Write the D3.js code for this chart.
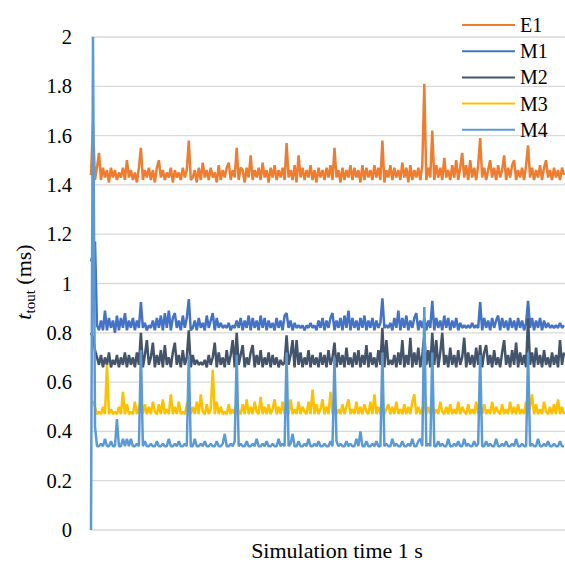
<!DOCTYPE html>
<html>
<head>
<meta charset="utf-8">
<script src="https://cdn.jsdelivr.net/npm/d3@7"></script>
<style>
  body { margin: 0; background: #fff; }
  svg { display: block; }
</style>
</head>
<body>
<svg id="chart" width="565" height="563" style="font-family:'Liberation Serif'">
  <text x="337" y="558" text-anchor="middle" style="font-family:'Liberation Serif'; font-size:22px">Simulation time 1 s</text>
  <text transform="translate(31,282) rotate(-90)" text-anchor="middle" style="font-family:'Liberation Serif'; font-size:22px"><tspan style="font-style:italic">t</tspan><tspan dy="4" style="font-size:15px">tout</tspan><tspan dy="-4"> (ms)</tspan></text>
</svg>
<script>
// t_tout (ms) per sample
const seriesNames = ["E1", "M1", "M2", "M3", "M4"];
const seriesColors = ["#ED7D31", "#4472C4", "#44546A", "#FFC000", "#5B9BD5"];
const yTicks = [0, 0.2, 0.4, 0.6, 0.8, 1, 1.2, 1.4, 1.6, 1.8, 2];

const e1 = [
  1.44,1.65,1.42,1.47,1.53,1.42,1.47,1.43,1.46,1.41,1.47,1.43,1.46,1.42,1.45,1.43,1.47,1.42,1.50,1.43,
  1.46,1.42,1.45,1.41,1.47,1.55,1.42,1.46,1.43,1.47,1.42,1.46,1.41,1.47,1.50,1.43,1.46,1.42,1.45,1.43,
  1.47,1.41,1.46,1.43,1.45,1.42,1.47,1.43,1.46,1.58,1.42,1.43,1.46,1.41,1.47,1.42,1.49,1.43,1.46,1.42,
  1.47,1.43,1.45,1.41,1.48,1.42,1.46,1.43,1.47,1.49,1.42,1.46,1.43,1.55,1.42,1.47,1.46,1.41,1.47,1.43,
  1.52,1.42,1.46,1.43,1.47,1.42,1.49,1.43,1.46,1.41,1.47,1.43,1.48,1.42,1.46,1.43,1.47,1.42,1.57,1.43,
  1.46,1.42,1.48,1.41,1.52,1.43,1.47,1.42,1.46,1.43,1.48,1.42,1.46,1.41,1.47,1.43,1.46,1.42,1.47,1.43,
  1.48,1.42,1.55,1.43,1.46,1.41,1.47,1.42,1.46,1.43,1.48,1.42,1.47,1.43,1.46,1.41,1.48,1.42,1.47,1.43,
  1.46,1.42,1.48,1.43,1.47,1.42,1.58,1.41,1.46,1.43,1.48,1.42,1.47,1.43,1.46,1.42,1.49,1.43,1.47,1.41,
  1.48,1.42,1.46,1.43,1.47,1.42,1.48,1.81,1.42,1.47,1.43,1.62,1.42,1.48,1.43,1.47,1.42,1.51,1.43,1.46,
  1.42,1.48,1.43,1.50,1.42,1.47,1.53,1.43,1.48,1.42,1.50,1.43,1.47,1.42,1.48,1.59,1.43,1.47,1.42,1.46,
  1.50,1.43,1.47,1.42,1.48,1.43,1.46,1.52,1.42,1.47,1.43,1.48,1.50,1.42,1.46,1.43,1.47,1.42,1.48,1.56,
  1.43,1.47,1.42,1.46,1.43,1.48,1.42,1.47,1.50,1.43,1.46,1.42,1.47,1.43,1.46,1.42,1.47,1.44
];
const m1 = [
  1.09,1.12,1.17,0.83,0.81,0.85,0.81,0.89,0.81,0.86,0.82,0.85,0.80,0.87,0.81,0.86,0.82,0.88,0.81,0.85,
  0.82,0.86,0.81,0.85,0.82,0.925,0.82,0.84,0.81,0.83,0.82,0.85,0.81,0.86,0.82,0.87,0.81,0.88,0.82,0.89,
  0.81,0.86,0.88,0.82,0.85,0.81,0.87,0.82,0.86,0.937,0.81,0.82,0.85,0.81,0.86,0.82,0.84,0.81,0.87,0.82,
  0.85,0.88,0.81,0.86,0.82,0.84,0.82,0.83,0.82,0.84,0.81,0.83,0.82,0.85,0.82,0.86,0.81,0.85,0.82,0.87,
  0.81,0.86,0.82,0.85,0.81,0.87,0.82,0.86,0.81,0.85,0.82,0.84,0.81,0.86,0.82,0.85,0.81,0.87,0.88,0.82,
  0.85,0.81,0.84,0.82,0.83,0.82,0.83,0.81,0.83,0.82,0.84,0.82,0.83,0.81,0.85,0.82,0.86,0.81,0.85,0.82,
  0.86,0.88,0.81,0.85,0.82,0.86,0.81,0.87,0.82,0.89,0.81,0.86,0.82,0.85,0.81,0.86,0.82,0.87,0.81,0.85,
  0.82,0.86,0.81,0.85,0.82,0.84,0.94,0.82,0.83,0.82,0.84,0.81,0.86,0.82,0.89,0.81,0.86,0.82,0.87,0.81,
  0.85,0.82,0.86,0.88,0.81,0.85,0.82,0.86,0.81,0.85,0.82,0.93,0.81,0.86,0.82,0.85,0.81,0.87,0.82,0.86,
  0.81,0.85,0.82,0.86,0.81,0.84,0.82,0.83,0.82,0.83,0.82,0.84,0.82,0.83,0.82,0.925,0.81,0.86,0.82,0.85,
  0.81,0.86,0.82,0.85,0.87,0.81,0.86,0.82,0.85,0.81,0.86,0.82,0.85,0.81,0.86,0.82,0.85,0.81,0.84,0.93,
  0.82,0.86,0.81,0.85,0.82,0.86,0.81,0.85,0.82,0.84,0.82,0.83,0.82,0.83,0.82,0.84,0.82,0.83
];
const m2 = [
  0.80,0.78,0.73,0.70,0.67,0.71,0.66,0.70,0.67,0.72,0.66,0.69,0.67,0.71,0.66,0.70,0.67,0.72,0.66,0.71,
  0.67,0.70,0.66,0.72,0.67,0.80,0.66,0.71,0.77,0.67,0.70,0.76,0.66,0.71,0.67,0.73,0.66,0.75,0.67,0.70,
  0.66,0.72,0.76,0.67,0.71,0.66,0.73,0.67,0.70,0.81,0.66,0.71,0.67,0.69,0.67,0.68,0.67,0.69,0.66,0.71,
  0.67,0.70,0.76,0.66,0.72,0.67,0.70,0.66,0.73,0.67,0.71,0.77,0.66,0.80,0.67,0.71,0.75,0.66,0.70,0.67,
  0.72,0.75,0.66,0.71,0.67,0.73,0.66,0.70,0.67,0.72,0.66,0.71,0.67,0.70,0.66,0.69,0.67,0.68,0.79,0.67,
  0.71,0.77,0.66,0.77,0.67,0.72,0.66,0.70,0.67,0.73,0.66,0.71,0.67,0.70,0.66,0.72,0.67,0.71,0.66,0.73,
  0.67,0.70,0.76,0.66,0.72,0.67,0.71,0.66,0.74,0.67,0.70,0.66,0.72,0.67,0.73,0.66,0.71,0.67,0.75,0.66,
  0.72,0.67,0.70,0.66,0.73,0.67,0.82,0.66,0.77,0.67,0.69,0.67,0.71,0.66,0.72,0.67,0.77,0.66,0.71,0.67,
  0.78,0.66,0.72,0.67,0.74,0.66,0.71,0.79,0.67,0.73,0.66,0.80,0.67,0.77,0.66,0.72,0.80,0.67,0.71,0.66,
  0.74,0.67,0.71,0.66,0.73,0.67,0.70,0.78,0.66,0.72,0.67,0.71,0.66,0.74,0.67,0.75,0.66,0.72,0.75,0.67,
  0.71,0.66,0.73,0.67,0.70,0.66,0.72,0.77,0.67,0.71,0.66,0.73,0.67,0.76,0.66,0.72,0.67,0.71,0.66,0.86,
  0.67,0.72,0.66,0.74,0.67,0.71,0.66,0.73,0.67,0.70,0.66,0.72,0.67,0.71,0.66,0.77,0.67,0.72
];
const m3 = [
  0.52,0.52,0.50,0.47,0.48,0.47,0.50,0.47,0.67,0.47,0.49,0.47,0.48,0.47,0.50,0.47,0.56,0.47,0.51,0.47,
  0.48,0.47,0.52,0.47,0.49,0.53,0.47,0.51,0.47,0.50,0.47,0.52,0.48,0.47,0.51,0.47,0.53,0.47,0.49,0.47,
  0.55,0.47,0.50,0.47,0.52,0.47,0.48,0.47,0.51,0.53,0.47,0.50,0.47,0.52,0.47,0.55,0.48,0.47,0.51,0.47,
  0.49,0.65,0.47,0.52,0.47,0.50,0.47,0.48,0.47,0.51,0.47,0.49,0.47,0.52,0.48,0.47,0.51,0.47,0.53,0.47,
  0.50,0.47,0.52,0.48,0.47,0.54,0.47,0.50,0.47,0.51,0.47,0.49,0.53,0.47,0.50,0.47,0.52,0.47,0.51,0.47,
  0.53,0.47,0.49,0.47,0.52,0.47,0.50,0.48,0.47,0.52,0.47,0.57,0.47,0.51,0.47,0.49,0.53,0.47,0.50,0.47,
  0.56,0.47,0.52,0.47,0.49,0.47,0.51,0.47,0.50,0.53,0.47,0.49,0.47,0.52,0.47,0.50,0.47,0.51,0.48,0.47,
  0.52,0.47,0.55,0.47,0.50,0.47,0.52,0.47,0.49,0.51,0.47,0.50,0.47,0.52,0.47,0.49,0.47,0.51,0.47,0.50,
  0.47,0.52,0.55,0.47,0.50,0.47,0.49,0.52,0.47,0.50,0.47,0.51,0.47,0.49,0.47,0.52,0.48,0.47,0.50,0.47,
  0.51,0.47,0.49,0.47,0.52,0.47,0.50,0.48,0.47,0.51,0.47,0.49,0.47,0.52,0.47,0.50,0.47,0.51,0.47,0.49,
  0.47,0.52,0.47,0.50,0.48,0.47,0.51,0.47,0.49,0.47,0.52,0.47,0.50,0.47,0.51,0.47,0.49,0.47,0.52,0.47,
  0.50,0.55,0.47,0.51,0.47,0.49,0.47,0.52,0.48,0.47,0.50,0.47,0.51,0.47,0.53,0.47,0.50,0.47
];
const m4 = [
  0,2.0,0.42,0.34,0.34,0.35,0.34,0.37,0.34,0.34,0.36,0.34,0.34,0.45,0.34,0.34,0.37,0.34,0.37,0.34,
  0.37,0.34,0.34,0.35,0.34,0.73,0.34,0.36,0.34,0.34,0.35,0.34,0.34,0.36,0.34,0.34,0.35,0.34,0.34,0.37,
  0.34,0.34,0.35,0.34,0.36,0.34,0.34,0.35,0.34,0.71,0.34,0.34,0.37,0.34,0.34,0.35,0.34,0.36,0.34,0.34,
  0.35,0.34,0.34,0.36,0.34,0.34,0.35,0.39,0.34,0.34,0.35,0.34,0.36,0.71,0.34,0.35,0.34,0.34,0.36,0.34,
  0.34,0.35,0.34,0.37,0.34,0.34,0.35,0.34,0.36,0.34,0.34,0.35,0.34,0.34,0.37,0.34,0.35,0.34,0.72,0.34,
  0.35,0.39,0.34,0.34,0.36,0.34,0.34,0.35,0.34,0.37,0.34,0.34,0.35,0.34,0.36,0.34,0.34,0.35,0.34,0.34,
  0.36,0.34,0.70,0.36,0.34,0.35,0.34,0.34,0.36,0.34,0.35,0.34,0.34,0.37,0.34,0.40,0.34,0.34,0.36,0.34,
  0.34,0.35,0.34,0.36,0.34,0.34,0.72,0.34,0.35,0.34,0.34,0.37,0.34,0.35,0.34,0.34,0.36,0.34,0.34,0.35,
  0.34,0.37,0.34,0.34,0.36,0.37,0.34,0.905,0.34,0.35,0.34,0.72,0.34,0.34,0.36,0.34,0.35,0.34,0.34,0.37,
  0.34,0.34,0.35,0.34,0.36,0.34,0.34,0.37,0.34,0.35,0.34,0.34,0.36,0.34,0.35,0.71,0.34,0.34,0.36,0.34,
  0.35,0.34,0.34,0.37,0.34,0.34,0.35,0.34,0.36,0.34,0.34,0.35,0.34,0.37,0.34,0.34,0.35,0.34,0.34,0.72,
  0.34,0.35,0.34,0.34,0.37,0.34,0.34,0.35,0.34,0.36,0.34,0.34,0.35,0.34,0.34,0.36,0.34,0.34
];
const seriesValues = [e1, m1, m2, m3, m4];

const W = 565, H = 563;
const margin = {top: 37, right: 0, bottom: 33, left: 91};
const width = W - margin.left - margin.right,
      height = H - margin.top - margin.bottom;
const font = size => `font-family:'Liberation Serif'; font-size:${size}px`;

const svg = d3.select("#chart");

const g = svg.insert("g", ":first-child")
    .attr("transform", `translate(${margin.left},${margin.top})`);

const x = d3.scaleLinear()
    .domain([0, e1.length - 1])
    .range([0, width - 1]);

const y = d3.scaleLinear()
    .domain([0, 2])
    .range([height, 0]);

// gridlines
g.selectAll(".grid")
    .data(yTicks)
  .enter().append("line")
    .attr("x1", 0)
    .attr("x2", width)
    .attr("y1", d => y(d))
    .attr("y2", d => y(d))
    .attr("stroke", "#d9d9d9")
    .attr("stroke-width", 1.3);

// Y axis labels
const yAxis = g.append("g")
    .call(d3.axisLeft(y).tickValues(yTicks).tickFormat(d3.format("~g")).tickSize(0).tickPadding(19));
yAxis.select(".domain").remove();
yAxis.attr("font-family", null).attr("font-size", null);
yAxis.selectAll("text")
    .attr("style", font(20.5))
    .attr("fill", "#000");

const line = d3.line()
    .x((d, i) => x(i))
    .y(d => y(d));

seriesValues.forEach((vals, k) => {
    g.append("path")
        .datum(vals)
        .attr("fill", "none")
        .attr("stroke", seriesColors[k])
        .attr("stroke-width", 2.5)
        .attr("stroke-linejoin", "bevel")
        .attr("d", line);
});

// Legend
const legend = svg.append("g");
seriesNames.forEach((name, k) => {
    const ly = 25 + k * 26.2;
    legend.append("line")
        .attr("x1", 462).attr("x2", 515)
        .attr("y1", ly).attr("y2", ly)
        .attr("stroke", seriesColors[k])
        .attr("stroke-width", 2);
    legend.append("text")
        .attr("x", 520)
        .attr("y", ly + 7)
        .attr("style", font(20))
        .attr("fill", "#000")
        .text(name);
});
</script>
</body>
</html>
